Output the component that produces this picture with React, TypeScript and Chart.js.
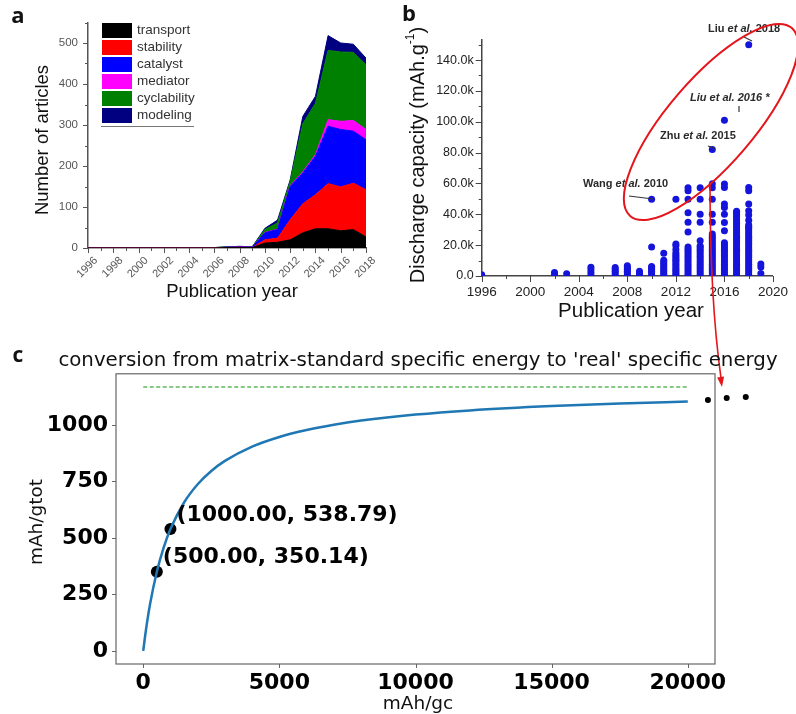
import React, { useEffect, useRef } from 'react';
import { Chart, registerables } from 'chart.js';
Chart.register(...registerables);

const CW = 796;
const CH = 714;

// ---------- Panel a : stacked areas ----------
const A_YEARS = [1996, 1997, 1998, 1999, 2000, 2001, 2002, 2003, 2004, 2005, 2006, 2007, 2008, 2009, 2010, 2011, 2012, 2013, 2014, 2015, 2016, 2017, 2018];
const A_NAMES = ['transport', 'stability', 'catalyst', 'mediator', 'cyclability', 'modeling'];
const A_COLORS = ['#000000', '#ff0000', '#0000ff', '#ff00ff', '#008000', '#000080'];
const TRANSPORT = [0, 0, 0, 0, 0, 0, 0, 0, 0, 0, 0, 1, 1, 1, 12, 14, 20, 37, 47, 47, 42, 45, 27];
const STABILITY = [0, 0, 0, 0, 0, 0, 0, 0, 0, 0, 0, 0, 1, 0, 8, 10, 49, 71, 83, 110, 107, 113, 115];
const CATALYST = [0, 0, 0, 0, 0, 0, 0, 0, 0, 0, 0, 1, 1, 1, 17, 21, 81, 75, 94, 140, 140, 127, 122];
const MEDIATOR = [0, 0, 0, 0, 0, 0, 0, 0, 0, 0, 0, 0, 0, 0, 1, 1, 2, 3, 4, 16, 20, 26, 25];
const CYCLABILITY = [0, 0, 0, 0, 0, 0, 1, 1, 0, 0, 1, 1, 1, 1, 7, 15, 11, 117, 125, 169, 169, 166, 158];
const MODELING = [0, 0, 0, 0, 0, 0, 0, 0, 0, 0, 0, 0, 0, 0, 3, 7, 3, 18, 17, 36, 22, 20, 16];
const A_SERIES = [TRANSPORT, STABILITY, CATALYST, MEDIATOR, CYCLABILITY, MODELING];
const A_Y_MAX = 550;

// ---------- Panel b : discharge capacity scatter ----------
const CAP_1996 = [800];
const CAP_2002 = [900, 2200];
const CAP_2003 = [1500];
const CAP_2005 = [800, 2200, 4000, 5600];
const CAP_2007 = [700, 1900, 3100, 4300, 5500];
const CAP_2008 = [700, 1900, 3100, 4300, 5500, 6700];
const CAP_2009 = [800, 2000, 3000];
const CAP_2010 = [700, 1900, 3100, 4300, 5500, 6200, 18800, 49800];
const CAP_2011 = [600, 1800, 3000, 4200, 5400, 6600, 7800, 9000, 10200, 14800];
const CAP_2012 = [600, 1800, 3000, 4200, 5400, 6600, 7800, 9000, 10200, 11400, 12600, 13800, 15000, 17200, 19600, 20800, 49800];
const CAP_2013 = [600, 2000, 3400, 4800, 6200, 7600, 9000, 10400, 11800, 13200, 14600, 16000, 17400, 18800, 28500, 34800, 41000, 49800, 55200, 57200];
const CAP_2014 = [600, 2000, 3400, 4800, 6200, 7600, 9000, 10400, 11800, 13200, 14600, 16000, 17400, 18800, 19400, 22800, 34800, 40000, 49800, 57200];
const CAP_2015 = [600, 2000, 3400, 4800, 6200, 7600, 9000, 10400, 11800, 13200, 14600, 16000, 17400, 18800, 20200, 21600, 23000, 24400, 25800, 27200, 34800, 40000, 49800, 57200, 59800, 82000];
const CAP_2016 = [600, 2000, 3400, 4800, 6200, 7600, 9000, 10400, 11800, 13200, 14600, 16000, 17400, 18800, 20200, 21600, 29300, 34700, 40100, 44400, 46600, 57400, 59600, 101000];
const CAP_2017 = [600, 2000, 3400, 4800, 6200, 7600, 9000, 10400, 11800, 13200, 14600, 16000, 17400, 18800, 20200, 21600, 23000, 24400, 25800, 27200, 28600, 30000, 31400, 32800, 34200, 35600, 37000, 38400, 39800, 41200, 42000];
const CAP_2018 = [600, 2000, 3400, 4800, 6200, 7600, 9000, 10400, 11800, 13200, 14600, 16000, 17400, 18800, 20200, 21600, 23000, 24400, 25800, 27200, 28600, 30000, 31400, 32000, 33000, 36200, 39500, 42300, 46600, 55200, 57400, 150000];
const CAP_2019 = [1700, 5800, 7800];
const B_YEARS = [1996, 2002, 2003, 2005, 2007, 2008, 2009, 2010, 2011, 2012, 2013, 2014, 2015, 2016, 2017, 2018, 2019];
const B_COLUMNS = [CAP_1996, CAP_2002, CAP_2003, CAP_2005, CAP_2007, CAP_2008, CAP_2009, CAP_2010, CAP_2011, CAP_2012, CAP_2013, CAP_2014, CAP_2015, CAP_2016, CAP_2017, CAP_2018, CAP_2019];
const B_Y_MAX = 153000;
const B_Y_TICKS = [0, 20000, 40000, 60000, 80000, 100000, 120000, 140000];

// ---------- Panel c : conversion curve ----------
const C_X = [0, 100, 250, 500, 750, 1000, 1500, 2000, 2500, 3000, 4000, 5000, 6000, 7000, 8000, 10000, 12000, 15000, 17500, 20000];
const C_Y = [0, 92, 206, 350.1, 456.7, 538.8, 656.7, 737.4, 796.1, 840.7, 904, 946.8, 977.7, 1001, 1019.2, 1045.8, 1064.4, 1083.6, 1094.9, 1103.5];
const C_ASYMPTOTE = 1168;
const C_MARK_X = [500, 1000];
const C_MARK_Y = [350.14, 538.79];
const C_MARK_LABELS = ['(500.00, 350.14)', '(1000.00, 538.79)'];
const C_DOTS_X = [20740, 21430, 22130];
const C_DOTS_Y = [1110, 1119, 1124];
const C_X_TICKS = [0, 5000, 10000, 15000, 20000];
const C_Y_TICKS = [0, 250, 500, 750, 1000];

function txt(ctx: CanvasRenderingContext2D, s: string, x: number, y: number, font: string, color: string, align: CanvasTextAlign = 'center', rot = 0) {
  ctx.save();
  ctx.translate(x, y);
  if (rot) ctx.rotate(rot);
  ctx.font = font;
  ctx.fillStyle = color;
  ctx.textAlign = align;
  ctx.textBaseline = 'middle';
  ctx.fillText(s, 0, 0);
  ctx.restore();
}

function rich(ctx: CanvasRenderingContext2D, x: number, y: number, parts: [string, boolean][], size: number) {
  ctx.save();
  ctx.textBaseline = 'middle';
  ctx.textAlign = 'left';
  ctx.fillStyle = '#2a2a2a';
  let cx = x;
  for (const [s, it] of parts) {
    ctx.font = `${it ? 'italic ' : ''}bold ${size}px "Liberation Sans"`;
    ctx.fillText(s, cx, y);
    cx += ctx.measureText(s).width;
  }
  ctx.restore();
}

function line(ctx: CanvasRenderingContext2D, x1: number, y1: number, x2: number, y2: number) {
  ctx.beginPath();
  ctx.moveTo(x1, y1);
  ctx.lineTo(x2, y2);
  ctx.stroke();
}

const noGrid = (color: string, width: number) => ({
  grid: { display: true, drawOnChartArea: false, drawTicks: false },
  border: { display: true, color, width },
});

export default function App() {
  const refA = useRef<HTMLCanvasElement>(null);
  const refB = useRef<HTMLCanvasElement>(null);
  const refC = useRef<HTMLCanvasElement>(null);

  useEffect(() => {
    const charts: Chart[] = [];

    // ---------------- Panel a ----------------
    charts.push(new Chart(refA.current!, {
      type: 'line',
      data: {
        datasets: A_SERIES.map((s, i) => ({
          label: A_NAMES[i],
          data: A_YEARS.map((yr, j) => ({ x: yr, y: s[j] })),
          fill: i === 0 ? 'origin' : '-1',
          backgroundColor: A_COLORS[i],
          borderColor: A_COLORS[i],
          borderWidth: 1,
          pointRadius: 0,
          tension: 0,
        })),
      },
      options: {
        responsive: false,
        animation: false,
        devicePixelRatio: 1,
        layout: { padding: { left: 0, top: 22.5, right: CW - 366, bottom: CH - 248 - 40 } },
        plugins: { legend: { display: false }, tooltip: { enabled: false } },
        scales: {
          x: {
            type: 'linear', min: 1996, max: 2018,
            afterFit: (s: any) => { s.height = 40; },
            ticks: {
              stepSize: 1, autoSkip: false, minRotation: 45, maxRotation: 45, labelOffset: 8, padding: 6,
              color: '#555', font: { family: 'Liberation Sans', size: 11 },
              callback: (v: any) => (v % 2 === 0 ? String(v) : ''),
            },
            ...noGrid('#555', 1.5),
          },
          y: {
            stacked: true, min: 0, max: A_Y_MAX,
            afterFit: (s: any) => { s.width = 88; },
            ticks: {
              stepSize: 50, autoSkip: false, padding: 10, color: '#555', font: { family: 'Liberation Sans', size: 11.5 },
              callback: (v: any) => (v % 100 === 0 ? String(v) : ''),
            },
            ...noGrid('#555', 1.5),
          },
        },
      },
      plugins: [{
        id: 'decorA',
        afterDraw(chart: any) {
          const { ctx, chartArea: ca, scales: { x, y } } = chart;
          ctx.save();
          ctx.strokeStyle = '#555';
          ctx.lineWidth = 1;
          for (let v = 0; v <= A_Y_MAX; v += 50) {
            const py = Math.round(y.getPixelForValue(v)) + 0.5;
            line(ctx, ca.left - (v % 100 === 0 ? 5 : 3), py, ca.left, py);
          }
          for (const yr of A_YEARS) {
            const px = Math.round(x.getPixelForValue(yr)) + 0.5;
            line(ctx, px, ca.bottom, px, ca.bottom + (yr % 2 === 0 ? 5 : 3));
          }
          // legend
          const lx = 102, ly = 23, pitch = 17;
          A_NAMES.forEach((n, i) => {
            ctx.fillStyle = A_COLORS[i];
            ctx.fillRect(lx, ly + i * pitch, 30, 15);
            txt(ctx, n, 137, ly + i * pitch + 7.5, '13.5px "Liberation Sans"', '#333', 'left');
          });
          ctx.strokeStyle = '#777';
          line(ctx, 101, 126.5, 194, 126.5);
          ctx.restore();
          txt(ctx, 'Number of articles', 43, 140, '18.5px "Liberation Sans"', '#111', 'center', -Math.PI / 2);
          txt(ctx, 'Publication year', 232, 292, '18.5px "Liberation Sans"', '#111');
          txt(ctx, 'a', 18, 17, 'bold 22px "Open Sans"', '#111');
        },
      }],
    } as any));

    // ---------------- Panel b ----------------
    const bPoints: { x: number; y: number }[] = [];
    B_YEARS.forEach((yr, i) => B_COLUMNS[i].forEach((v) => bPoints.push({ x: yr, y: v })));
    charts.push(new Chart(refB.current!, {
      type: 'scatter',
      data: {
        datasets: [{
          data: bPoints,
          backgroundColor: '#1414dc',
          borderColor: '#1414dc',
          pointRadius: 3.5,
          borderWidth: 0,
        }],
      },
      options: {
        responsive: false,
        animation: false,
        devicePixelRatio: 1,
        layout: { padding: { left: 0, top: 40, right: CW - 780, bottom: CH - 276 - 30 } },
        plugins: { legend: { display: false }, tooltip: { enabled: false } },
        scales: {
          x: {
            type: 'linear', min: 1996, max: 2020,
            afterFit: (s: any) => { s.height = 30; },
            ticks: {
              stepSize: 2, autoSkip: false, maxRotation: 0, minRotation: 0, padding: 8,
              color: '#222', font: { family: 'Liberation Sans', size: 13.5 },
              callback: (v: any) => ((v - 1996) % 4 === 0 ? String(v) : ''),
            },
            ...noGrid('#444', 1.5),
          },
          y: {
            min: 0, max: B_Y_MAX,
            afterFit: (s: any) => { s.width = 481.7; },
            afterBuildTicks: (s: any) => { s.ticks = B_Y_TICKS.map((v) => ({ value: v })); },
            ticks: {
              autoSkip: false, padding: 8, color: '#222',
              font: { family: 'Liberation Sans', size: 12.5 },
              callback: (v: any) => (v === 0 ? '0.0' : (v / 1000).toFixed(1) + 'k'),
            },
            ...noGrid('#444', 1.5),
          },
        },
      },
      plugins: [{
        id: 'decorB',
        afterDraw(chart: any) {
          const { ctx, chartArea: ca, scales: { x, y } } = chart;
          ctx.save();
          ctx.strokeStyle = '#444';
          ctx.lineWidth = 1;
          for (let v = 0; v <= B_Y_MAX; v += 10000) {
            const py = Math.round(y.getPixelForValue(v)) + 0.5;
            line(ctx, ca.left - (v % 20000 === 0 ? 6 : 3), py, ca.left, py);
          }
          for (let yr = 1996; yr <= 2020; yr += 2) {
            const px = Math.round(x.getPixelForValue(yr)) + 0.5;
            line(ctx, px, ca.bottom, px, ca.bottom + ((yr - 1996) % 4 === 0 ? 6 : 3));
          }
          // leader lines
          ctx.strokeStyle = '#333';
          ctx.lineWidth = 1.2;
          line(ctx, 744, 37, 752, 41);
          line(ctx, 739, 106, 739, 112);
          line(ctx, 708, 146, 715, 148.5);
          line(ctx, 629, 196, 653, 199);
          // labels
          rich(ctx, 708, 29, [['Liu ', false], ['et al.', true], [' 2018', false]], 11);
          rich(ctx, 690, 98, [['Liu et al. 2016 *', true]], 11);
          rich(ctx, 660, 136, [['Zhu ', false], ['et al.', true], [' 2015', false]], 11);
          rich(ctx, 583, 184, [['Wang ', false], ['et al.', true], [' 2010', false]], 11);
          // red ellipse
          ctx.strokeStyle = '#e4161b';
          ctx.lineWidth = 2;
          ctx.beginPath();
          ctx.ellipse(711, 122, 124, 43, -49.3 * Math.PI / 180, 0, Math.PI * 2);
          ctx.stroke();
          // y title with superscript
          ctx.save();
          ctx.translate(418, 155);
          ctx.rotate(-Math.PI / 2);
          ctx.fillStyle = '#111';
          ctx.textBaseline = 'middle';
          ctx.textAlign = 'left';
          const f1 = '20px "Liberation Sans"';
          const f2 = '12px "Liberation Sans"';
          ctx.font = f1;
          const m1 = 'Discharge capacity (mAh.g';
          const w1 = ctx.measureText(m1).width;
          const w3 = ctx.measureText(')').width;
          ctx.font = f2;
          const w2 = ctx.measureText('-1').width;
          let sx = -(w1 + w2 + w3) / 2;
          ctx.font = f1;
          ctx.fillText(m1, sx, 0);
          sx += w1;
          ctx.font = f2;
          ctx.fillText('-1', sx, -7);
          sx += w2;
          ctx.font = f1;
          ctx.fillText(')', sx, 0);
          ctx.restore();
          ctx.restore();
          txt(ctx, 'Publication year', 631, 311, '20.5px "Liberation Sans"', '#111');
          txt(ctx, 'b', 409, 15, 'bold 22px "Open Sans"', '#111');
        },
      }],
    } as any));

    // ---------------- Panel c ----------------
    charts.push(new Chart(refC.current!, {
      type: 'line',
      data: {
        datasets: [
          {
            data: C_X.map((v, i) => ({ x: v, y: C_Y[i] })),
            borderColor: '#1f77b4', borderWidth: 2.5, pointRadius: 0,
            cubicInterpolationMode: 'monotone', fill: false,
          },
          {
            data: [{ x: 0, y: C_ASYMPTOTE }, { x: 20000, y: C_ASYMPTOTE }],
            borderColor: '#5cb85c', borderWidth: 1.5, borderDash: [4, 2.5], pointRadius: 0, fill: false,
          },
          {
            type: 'scatter',
            data: C_MARK_X.map((v, i) => ({ x: v, y: C_MARK_Y[i] })),
            backgroundColor: '#000', borderWidth: 0, pointRadius: 6,
          },
        ],
      },
      options: {
        responsive: false,
        animation: false,
        devicePixelRatio: 1,
        layout: { padding: { left: 0, top: 373.8, right: CW - 715, bottom: CH - 664 - 40 } },
        plugins: { legend: { display: false }, tooltip: { enabled: false } },
        scales: {
          x: {
            type: 'linear', min: -1000, max: 21000,
            afterFit: (s: any) => { s.height = 40; },
            afterBuildTicks: (s: any) => { s.ticks = C_X_TICKS.map((v) => ({ value: v })); },
            ticks: {
              autoSkip: false, maxRotation: 0, minRotation: 0, padding: 6, color: '#000',
              font: { family: 'DejaVu Sans', size: 22, weight: 'bold' },
              callback: (v: any) => String(v),
            },
            grid: { display: false, drawTicks: false },
            border: { display: false },
          },
          y: {
            min: -58.4, max: 1226.4,
            afterFit: (s: any) => { s.width = 116; },
            afterBuildTicks: (s: any) => { s.ticks = C_Y_TICKS.map((v) => ({ value: v })); },
            ticks: {
              padding: 8, color: '#000',
              font: { family: 'DejaVu Sans', size: 22, weight: 'bold' },
              callback: (v: any) => String(v),
            },
            grid: { display: false, drawTicks: false },
            border: { display: false },
          },
        },
      },
      plugins: [{
        id: 'decorC',
        afterDraw(chart: any) {
          const { ctx, chartArea: ca, scales: { x, y } } = chart;
          ctx.save();
          ctx.strokeStyle = '#666';
          ctx.lineWidth = 1.2;
          ctx.strokeRect(ca.left, ca.top, ca.right - ca.left, ca.bottom - ca.top);
          ctx.lineWidth = 1;
          for (const v of C_X_TICKS) {
            const px = Math.round(x.getPixelForValue(v)) + 0.5;
            line(ctx, px, ca.bottom, px, ca.bottom + 4);
          }
          for (const v of C_Y_TICKS) {
            const py = Math.round(y.getPixelForValue(v)) + 0.5;
            line(ctx, ca.left - 4, py, ca.left, py);
          }
          // ellipsis dots beyond the frame
          ctx.fillStyle = '#000';
          C_DOTS_X.forEach((v, i) => {
            ctx.beginPath();
            ctx.arc(x.getPixelForValue(v), y.getPixelForValue(C_DOTS_Y[i]), 3, 0, Math.PI * 2);
            ctx.fill();
          });
          // point labels
          C_MARK_X.forEach((v, i) => {
            const px = x.getPixelForValue(v);
            const py = y.getPixelForValue(C_MARK_Y[i]);
            txt(ctx, C_MARK_LABELS[i], px + 6, py - 14, 'bold 22px "DejaVu Sans"', '#000', 'left');
          });
          // red arrow from panel b
          ctx.strokeStyle = '#e4161b';
          ctx.fillStyle = '#e4161b';
          ctx.lineWidth = 1.6;
          ctx.beginPath();
          ctx.moveTo(710, 182);
          ctx.quadraticCurveTo(710, 300, 721, 378);
          ctx.stroke();
          const ang = Math.atan2(386 - 300, 722 - 710);
          ctx.beginPath();
          ctx.moveTo(722, 387);
          ctx.lineTo(722 - 10 * Math.cos(ang) + 3.5 * Math.sin(ang), 387 - 10 * Math.sin(ang) - 3.5 * Math.cos(ang));
          ctx.lineTo(722 - 10 * Math.cos(ang) - 3.5 * Math.sin(ang), 387 - 10 * Math.sin(ang) + 3.5 * Math.cos(ang));
          ctx.closePath();
          ctx.fill();
          ctx.restore();
          txt(ctx, "conversion from matrix-standard specific energy to 'real' specific energy", 418, 361, '19.8px "DejaVu Sans"', '#111');
          txt(ctx, 'mAh/gtot', 37, 522, '18.5px "DejaVu Sans"', '#111', 'center', -Math.PI / 2);
          txt(ctx, 'mAh/gc', 418, 704, '18.5px "DejaVu Sans"', '#111');
          txt(ctx, 'c', 18, 356, 'bold 21px "Open Sans"', '#111');
        },
      }],
    } as any));

    return () => charts.forEach((c) => c.destroy());
  }, []);

  const cs: React.CSSProperties = { position: 'absolute', left: 0, top: 0, width: CW, height: CH };
  return (
    <div style={{ position: 'absolute', left: 0, top: 0, width: CW, height: CH, background: '#fff', overflow: 'hidden' }}>
      <canvas ref={refA} width={CW} height={CH} style={cs} />
      <canvas ref={refB} width={CW} height={CH} style={cs} />
      <canvas ref={refC} width={CW} height={CH} style={cs} />
    </div>
  );
}
